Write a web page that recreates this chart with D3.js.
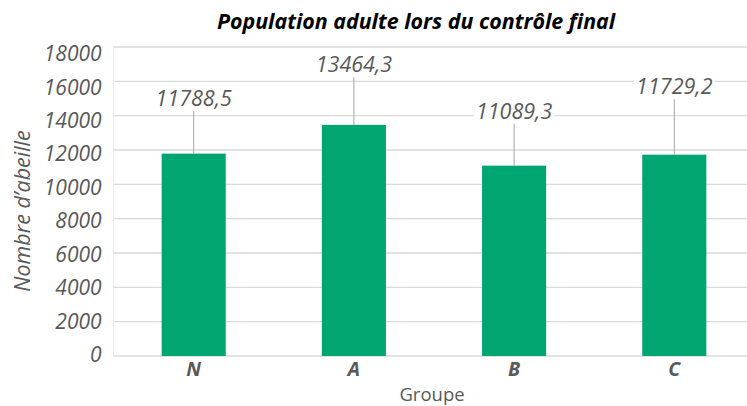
<!DOCTYPE html>
<html>
<head>
<meta charset="utf-8">
<script src="https://cdn.jsdelivr.net/npm/d3@7"></script>
<style>
  body { margin: 0; background: #fff; }
  svg { display: block; font-family: "Open Sans", sans-serif; }
</style>
</head>
<body>
<svg width="747" height="406"></svg>
<script>
// data
var groups = ["N", "A", "B", "C"];
var means = [11788.5, 13464.3, 11089.3, 11729.2];
var errors = [2640, 2960, 2620, 3400];
var labels = ["11788,5", "13464,3", "11089,3", "11729,2"];
var yTicks = [0, 2000, 4000, 6000, 8000, 10000, 12000, 14000, 16000, 18000];

var svg = d3.select("svg");
var margin = {top: 47, left: 113.6};
var width = 640.8, height = 309;

var g = svg.append("g").attr("transform", "translate(" + margin.left + "," + margin.top + ")");

var x = d3.scaleBand().domain(groups).range([0, width]).paddingInner(0.6).paddingOuter(0.3);
var y = d3.scaleLinear().domain([0, 18000]).range([height, 0]);
// tick labels in the source sit a little off their gridlines
var yLab = d3.scaleLinear().domain([0, 18000]).range([height - 1.5, 6.5]);

// gridlines
g.selectAll(".grid").data(yTicks).join("line")
  .attr("x1", 0).attr("x2", width)
  .attr("y1", d => y(d)).attr("y2", d => y(d))
  .attr("stroke", "#dadada").attr("stroke-width", 1.3);

// left axis line
g.append("line").attr("x1", 0).attr("x2", 0).attr("y1", 0).attr("y2", height)
  .attr("stroke", "#ececec");

// y tick labels
g.selectAll(".ytick").data(yTicks).join("text")
  .attr("x", -12).attr("y", d => yLab(d)).attr("dy", "0.36em")
  .attr("text-anchor", "end").attr("font-style", "italic")
  .attr("font-size", 21).attr("fill", "#595959")
  .text(d => d);

// bars
g.selectAll(".bar").data(means).join("rect")
  .attr("x", (d, i) => x(groups[i])).attr("width", x.bandwidth())
  .attr("y", d => y(d)).attr("height", d => height - y(d))
  .attr("fill", "#00a672");

// error bars
g.selectAll(".err").data(means).join("line")
  .attr("x1", (d, i) => x(groups[i]) + x.bandwidth() / 2)
  .attr("x2", (d, i) => x(groups[i]) + x.bandwidth() / 2)
  .attr("y1", d => y(d)).attr("y2", (d, i) => y(d + errors[i]))
  .attr("stroke", "#a6a6a6").attr("stroke-width", 1);

// value labels with white box
var lab = g.selectAll(".lab").data(means).join("g");
lab.append("rect").attr("fill", "#fff");
lab.append("text")
  .attr("x", (d, i) => x(groups[i]) + x.bandwidth() / 2)
  .attr("y", (d, i) => y(d + errors[i]) - 2)
  .attr("text-anchor", "middle").attr("font-style", "italic")
  .attr("font-size", 21.5).attr("fill", "#595959")
  .text((d, i) => labels[i]);
lab.each(function() {
  var bb = d3.select(this).select("text").node().getBBox();
  d3.select(this).select("rect")
    .attr("x", bb.x - 2).attr("y", bb.y + 3)
    .attr("width", bb.width + 4).attr("height", bb.height - 4);
});

// x tick labels
g.selectAll(".xtick").data(groups).join("text")
  .attr("x", d => x(d) + x.bandwidth() / 2).attr("y", height + 20)
  .attr("text-anchor", "middle").attr("font-style", "italic").attr("font-weight", "bold")
  .attr("font-size", 19.5).attr("fill", "#595959")
  .text(d => d);

// titles
svg.append("text").attr("x", 416).attr("y", 28.5)
  .attr("text-anchor", "middle").attr("font-style", "italic").attr("font-weight", "bold")
  .attr("font-size", 21.4).attr("fill", "#000")
  .text("Population adulte lors du contrôle final");

svg.append("text").attr("x", 432).attr("y", 401)
  .attr("text-anchor", "middle").attr("font-size", 18.5).attr("fill", "#595959")
  .text("Groupe");

svg.append("text").attr("transform", "translate(30,211) rotate(-90)")
  .attr("text-anchor", "middle").attr("font-style", "italic")
  .attr("font-size", 21.5).attr("fill", "#595959")
  .text("Nombre d\u2019abeille");
</script>
</body>
</html>
